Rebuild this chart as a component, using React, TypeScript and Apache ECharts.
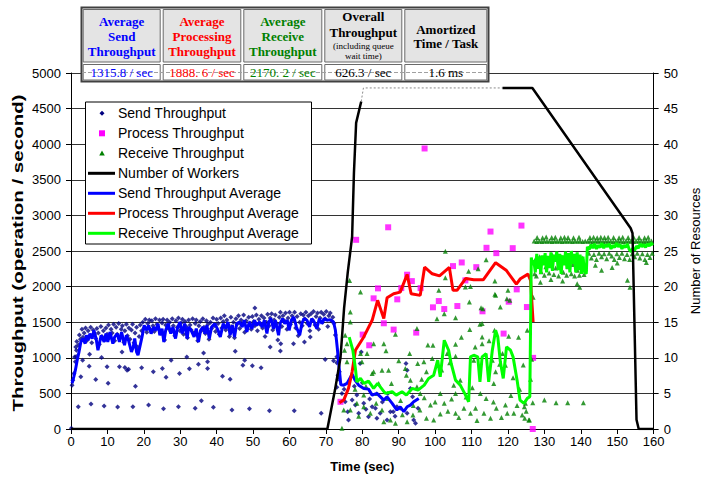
import React, { useEffect, useRef } from "react";
import * as echarts from "echarts";

// ---------------- DATA ----------------
const xTicks = [0, 10, 20, 30, 40, 50, 60, 70, 80, 90, 100, 110, 120, 130, 140, 150, 160];

const sendThroughput: number[][] = [
  [0.1, 10], [0.3, 616], [0.5, 686], [0.8, 780], [1.2, 943], [1.5, 1106], [1.4, 1020], [2.0, 312], [2.7, 733], [3.2, 966],
  [5.0, 882], [5.1, 1050], [5.5, 350], [6.8, 696], [8.4, 1004], [9.1, 322], [9.9, 873], [10.2, 644], [12.8, 308], [13.3, 873],
  [14.0, 1083], [14.8, 864], [15.4, 826], [15.8, 840], [17.0, 312], [17.7, 602], [19.4, 859], [21.3, 336], [22.6, 803], [25.1, 850],
  [25.4, 284], [26.1, 728], [27.5, 966], [29.5, 312], [29.8, 780], [31.8, 1012], [32.5, 845], [34.1, 290], [35.0, 910], [35.8, 396],
  [36.4, 1069], [37.5, 943], [37.5, 850], [39.1, 304], [41.6, 742], [43.7, 700], [44.2, 266], [45.1, 1092], [47.2, 896], [47.7, 966],
  [49.0, 284], [49.8, 887], [50.5, 1699], [52.2, 859], [54.5, 256], [54.7, 1153], [57.5, 1097], [57.6, 1199], [61.1, 1199], [61.3, 256],
  [64.1, 1223], [65.7, 1293], [68.7, 220], [69.8, 975], [72.1, 957], [73.0, 930], [73.3, 756], [73.3, 700], [73.0, 588],
  [1.0, 1010], [1.3, 1150], [1.6, 1230], [2.0, 1180], [2.3, 1320], [2.6, 1260], [3.0, 1400], [3.3, 1290], [3.6, 1350], [4.0, 1420],
  [4.3, 1240], [4.7, 1380], [5.0, 1300], [5.4, 1430], [5.7, 1210], [6.1, 1390], [6.4, 1330], [6.8, 1270], [7.1, 1410], [7.5, 1350],
  [7.8, 1190], [8.2, 1440], [8.5, 1300], [8.9, 1380], [9.2, 1250], [9.6, 1420], [9.9, 1330], [10.3, 1460], [10.6, 1280], [11.0, 1400],
  [11.3, 1350], [11.7, 1470], [12.0, 1240], [12.4, 1430], [12.7, 1330], [13.1, 1480], [13.4, 1290], [13.8, 1400], [14.1, 1450], [14.5, 1220],
  [14.8, 1380], [15.2, 1470], [15.5, 1310], [15.9, 1420], [16.2, 1260], [16.6, 1390], [16.9, 1470], [17.3, 1210], [17.6, 1350], [18.0, 1430],
  [18.3, 1150], [18.7, 1300], [19.0, 1460], [19.4, 1380], [19.7, 1500], [20.1, 1420], [20.4, 1540], [20.8, 1360], [21.1, 1480], [21.5, 1530],
  [21.8, 1400], [22.2, 1520], [22.5, 1450], [22.9, 1370], [23.2, 1550], [23.6, 1470], [23.9, 1420], [24.3, 1530], [24.6, 1350], [25.0, 1490],
  [25.3, 1540], [25.7, 1250], [26.0, 1460], [26.4, 1530], [26.7, 1410], [27.1, 1500], [27.4, 1370], [27.8, 1550], [28.1, 1450], [28.5, 1310],
  [28.8, 1520], [29.2, 1430], [29.5, 1560], [29.9, 1380], [30.2, 1490], [30.6, 1540], [30.9, 1330], [31.3, 1510], [31.6, 1440], [32.0, 1280],
  [32.3, 1530], [32.7, 1460], [33.0, 1390], [33.4, 1550], [33.7, 1350], [34.1, 1480], [34.4, 1530], [34.8, 1240], [35.1, 1450], [35.5, 1510],
  [35.8, 1380], [36.2, 1550], [36.5, 1430], [36.9, 1340], [37.2, 1520], [37.6, 1470], [37.9, 1260], [38.3, 1500], [38.6, 1410], [39.0, 1560],
  [39.3, 1450], [39.7, 1370], [40.0, 1540], [40.4, 1480], [40.7, 1330], [41.1, 1560], [41.4, 1420], [41.8, 1510], [42.1, 1590], [42.5, 1390],
  [42.8, 1530], [43.2, 1460], [43.5, 1300], [43.9, 1570], [44.2, 1440], [44.6, 1500], [44.9, 1280], [45.3, 1550], [45.6, 1470], [46.0, 1590],
  [46.3, 1410], [46.7, 1530], [47.0, 1480], [47.4, 1600], [47.7, 1360], [48.1, 1520], [48.4, 1440], [48.8, 1570], [49.1, 1490], [49.5, 1400],
  [49.8, 1580], [50.2, 1510], [50.5, 1450], [50.9, 1600], [51.2, 1380], [51.6, 1540], [51.9, 1470], [52.3, 1590], [52.6, 1420], [53.0, 1560],
  [53.3, 1300], [53.7, 1500], [54.0, 1610], [54.4, 1450], [54.7, 1560], [55.1, 1620], [55.4, 1390], [55.8, 1530], [56.1, 1600], [56.5, 1480],
  [56.8, 1250], [57.2, 1570], [57.5, 1640], [57.9, 1440], [58.2, 1590], [58.6, 1520], [58.9, 1630], [59.3, 1400], [59.6, 1560], [60.0, 1640],
  [60.3, 1470], [60.7, 1590], [61.0, 1530], [61.4, 1640], [61.7, 1420], [62.1, 1580], [62.4, 1310], [62.8, 1500], [63.1, 1620], [63.5, 1450],
  [63.8, 1600], [64.2, 1550], [64.5, 1640], [64.9, 1480], [65.2, 1590], [65.6, 1380], [65.9, 1620], [66.3, 1530], [66.6, 1650], [67.0, 1460],
  [67.3, 1580], [67.7, 1630], [68.0, 1400], [68.4, 1560], [68.7, 1640], [69.1, 1500], [69.4, 1610], [69.8, 1550], [70.1, 1650], [70.5, 1440],
  [70.8, 1590], [71.2, 1630], [71.5, 1520], [71.9, 1570], [72.2, 1480], [72.6, 1320],
  [73.5, 733], [73.0, 1013], [73.7, 803], [74.4, 500], [75.3, 382], [76.0, 243], [76.2, 126], [77.2, 406], [78.1, 336], [78.5, 476],
  [79.0, 220], [79.7, 1083], [79.4, 920], [80.4, 360], [81.0, 276], [81.7, 172], [82.7, 312], [83.6, 290], [84.0, 150], [84.9, 220],
  [86.8, 126], [87.7, 243], [88.5, 243], [89.5, 312], [90.4, 290], [92.0, 920], [92.3, 826], [93.2, 570], [93.8, 452], [94.1, 126],
  [94.6, 80], [95.3, 290], [92.3, 220], [75.0, 560], [77.8, 600], [80.0, 650], [82.0, 420], [85.5, 380], [87.0, 500], [89.0, 180]
];

const processThroughput: number[][] = [
  [74.0, 382], [78.3, 2657], [80.1, 1326], [81.9, 1176], [83.1, 1835], [84.3, 1975], [85.9, 1485], [87.1, 2833], [88.6, 1396], [89.6, 1821],
  [90.7, 1979], [92.3, 2167], [93.6, 2077], [94.8, 1354], [96.0, 1979], [97.1, 3940], [99.4, 1709], [101.0, 1797], [102.5, 1685], [104.9, 2288],
  [106.1, 1727], [107.3, 2339], [108.3, 2087], [111.3, 2273], [113.0, 1653], [114.1, 2545], [115.2, 2773], [116.8, 2470], [118.8, 1340], [120.2, 1788],
  [121.3, 2540], [122.4, 1961], [123.7, 2857], [125.2, 1713], [126.9, 999], [126.8, 0]
];

const receiveThroughput: number[][] = [
  [74.4, 10], [74.9, 266], [75.1, 1106], [75.3, 1316], [75.8, 1199], [75.8, 943], [76.5, 2087], [76.7, 1643], [76.7, 1503], [76.7, 266],
  [78.5, 360], [79.5, 1923], [79.5, 1060], [79.9, 943], [80.4, 312], [80.4, 476], [81.3, 1060], [82.2, 220], [82.7, 780], [83.1, 1199],
  [83.1, 803], [84.0, 500], [85.4, 826], [85.4, 266], [85.9, 1199], [85.9, 103], [87.2, 826], [87.7, 126], [89.1, 1330], [89.1, 80],
  [91.8, 850], [92.1, 756], [92.3, 103], [93.2, 686], [93.9, 196], [95.0, 1410], [95.0, 592], [95.2, 920], [95.8, 266], [95.9, 500],
  [96.9, 943], [97.6, 803], [97.6, 150], [98.7, 336], [99.2, 990], [99.4, 1176], [99.6, 126], [100.5, 1550], [101.0, 1947], [101.4, 210],
  [101.4, 500], [102.5, 1620], [102.5, 360], [102.8, 2497], [102.8, 2124], [103.3, 1060], [105.1, 616], [105.6, 1564], [105.6, 1190], [105.6, 1022],
  [105.6, 500], [105.6, 220], [106.9, 686], [107.9, 290], [108.3, 1993], [109.2, 2217], [109.4, 1783], [109.5, 1396], [109.7, 2003], [109.7, 220],
  [110.6, 966], [111.1, 290], [111.8, 2250], [112.3, 1471], [112.4, 500], [112.6, 1704], [112.9, 1480], [112.9, 1293], [112.9, 1199], [113.1, 1690],
  [113.4, 220], [114.0, 2376], [115.2, 150], [115.7, 966], [116.1, 640], [116.3, 1386], [116.4, 2077], [116.4, 1891], [116.6, 1877], [116.6, 803],
  [116.8, 290], [117.7, 910], [117.9, 1713], [119.3, 896], [119.3, 336], [119.7, 1830], [119.8, 220], [120.0, 1947], [120.2, 1302], [120.5, 1807],
  [121.6, 220], [123.9, 196], [124.5, 312], [124.8, 360], [125.7, 126], [125.9, 126], [126.2, 700], [126.5, 980], [125.3, 1386], [126.9, 1850],
  [86.5, 1100], [88.0, 640], [90.5, 400], [94.0, 330], [97.0, 440], [100.0, 380], [103.5, 250], [104.5, 420], [106.5, 160], [108.5, 450],
  [110.2, 580], [111.5, 120], [114.0, 430], [116.0, 380], [118.2, 160], [120.8, 470], [122.5, 330], [123.2, 560], [125.0, 250], [78.0, 560],
  [79.0, 180], [81.0, 600], [83.8, 360], [84.5, 640], [87.0, 430], [90.0, 960], [91.0, 200], [93.0, 1060], [96.3, 700], [98.0, 1180],
  [101.8, 830], [104.0, 930], [107.2, 1290], [111.0, 1150], [114.8, 1240], [118.5, 1060], [121.4, 720], [122.9, 1290], [124.2, 900], [124.6, 150],
  [126.8, 368], [130.0, 406], [133.2, 368], [136.4, 368], [140.7, 368],
  [127.2, 2640], [127.9, 2635], [128.6, 2640], [129.3, 2632], [130.0, 2640], [130.7, 2636], [131.4, 2642], [132.1, 2634], [132.8, 2640], [133.5, 2636],
  [134.2, 2642], [134.9, 2632], [135.6, 2640], [136.3, 2636], [137.0, 2640], [137.7, 2634], [138.4, 2642], [139.1, 2636], [139.8, 2640], [140.5, 2632],
  [141.2, 2640], [141.9, 2636], [142.6, 2642], [143.3, 2634], [144.0, 2640], [144.7, 2636], [145.4, 2642], [146.1, 2632], [146.8, 2640], [147.5, 2636],
  [148.2, 2640], [148.9, 2634], [149.6, 2642], [150.3, 2636], [151.0, 2640], [151.7, 2632], [152.4, 2640], [153.1, 2636], [153.8, 2642], [154.5, 2634],
  [155.2, 2640], [155.9, 2636], [156.6, 2642], [157.3, 2632], [158.0, 2640], [158.7, 2636], [159.4, 2640],
  [128.0, 2690], [129.5, 2685], [130.5, 2695], [132.0, 2688], [133.0, 2692], [134.5, 2686], [135.5, 2694], [136.5, 2690], [138.0, 2686], [139.5, 2692],
  [142.5, 2690], [143.5, 2694], [144.5, 2686], [145.5, 2692], [146.5, 2688], [147.5, 2694], [149.0, 2690], [150.5, 2686], [151.5, 2692], [153.0, 2688],
  [154.5, 2694], [156.0, 2690], [157.5, 2686], [158.5, 2692],
  [127.5, 2380], [127.8, 2150], [128.2, 2300], [128.7, 2420], [129.1, 2210], [129.5, 2350], [130.0, 2160], [130.4, 2280], [130.9, 2400], [131.3, 2190],
  [131.7, 2320], [132.2, 2440], [132.6, 2170], [133.1, 2260], [133.5, 2380], [133.9, 2150], [134.3, 2300], [134.8, 2420], [135.2, 2200], [135.7, 2340],
  [136.1, 2160], [136.5, 2280], [137.0, 2410], [137.4, 2180], [137.8, 2310], [138.3, 2150], [138.7, 2370], [139.1, 2230], [139.6, 2160], [140.0, 2290],
  [140.4, 2400], [140.9, 2170], [141.3, 2250], [128.9, 2060], [131.8, 2100], [135.0, 2080], [139.0, 2040], [139.7, 1990], [127.3, 2180],
  [142.2, 2470], [142.9, 2400], [143.6, 2450], [144.3, 2380], [145.0, 2470], [145.7, 2420], [146.4, 2460], [147.1, 2390], [147.8, 2470], [148.5, 2430],
  [149.2, 2380], [149.9, 2460], [150.6, 2410], [151.3, 2470], [152.0, 2390], [152.7, 2450], [153.4, 2380], [154.1, 2460], [154.8, 2420], [155.5, 2470],
  [156.2, 2400], [156.9, 2460], [157.6, 2380], [158.3, 2450], [159.0, 2410], [159.6, 2470], [145.7, 2230], [148.6, 2270], [152.8, 2090], [153.5, 1990],
  [144.0, 2300], [150.0, 2330], [158.0, 2340]
];

const numberOfWorkers: number[][] = [
  [0, 0], [70.4, 0], [72.5, 5.5], [74.0, 10], [75.0, 17], [76.0, 22], [77.2, 27], [77.7, 36], [78.3, 43], [79.7, 46]
];
const numberOfWorkersGap: number[][] = [[79.7, 46], [80.3, 47.9], [118.5, 47.9]];
const numberOfWorkersLate: number[][] = [
  [118.5, 47.9], [126.7, 47.9], [153.7, 28.2], [154.2, 27.5], [155.3, 1.3], [155.9, 0], [160, 0]
];

const sendAverage: number[][] = [
  [0.3, 640], [0.8, 740], [1.2, 826], [1.7, 966], [2.2, 1083], [2.7, 1223], [3.3, 1270], [3.9, 1200], [4.2, 1316], [4.7, 1246],
  [5.2, 1340], [5.8, 1270], [6.3, 1386], [6.9, 1270], [7.4, 1106], [7.9, 1223], [8.3, 1316], [9.1, 1223], [9.6, 1340], [10.1, 1223],
  [10.7, 1363], [11.5, 1200], [12.0, 1293], [12.7, 1340], [13.3, 1223], [13.9, 1363], [14.7, 1176], [15.2, 1316], [15.8, 1246], [16.6, 1083],
  [17.1, 1153], [17.5, 1270], [18.0, 1083], [18.4, 1036], [18.9, 1153], [19.5, 1293], [20.1, 1456], [20.8, 1386], [21.3, 1456], [22.0, 1340],
  [22.7, 1433], [23.3, 1386], [23.9, 1480], [24.4, 1316], [25.0, 1410], [25.5, 1223], [26.0, 1386], [26.7, 1480], [27.4, 1340], [28.0, 1433],
  [28.7, 1270], [29.2, 1410], [29.9, 1503], [30.5, 1340], [31.2, 1480], [31.9, 1270], [32.3, 1433], [33.0, 1386], [33.8, 1293], [34.4, 1410],
  [35.0, 1223], [35.6, 1386], [36.2, 1433], [36.8, 1340], [37.3, 1456], [38.0, 1270], [38.6, 1433], [39.5, 1480], [40.4, 1386], [41.0, 1293],
  [41.8, 1480], [42.5, 1410], [43.1, 1503], [43.7, 1316], [44.3, 1456], [44.9, 1293], [45.5, 1480], [46.3, 1503], [47.0, 1433], [47.6, 1527],
  [48.3, 1363], [49.0, 1503], [49.7, 1410], [50.4, 1527], [51.0, 1456], [51.8, 1503], [52.5, 1433], [53.1, 1527], [53.8, 1340], [54.3, 1503],
  [54.9, 1550], [55.6, 1410], [56.1, 1527], [57.0, 1316], [57.4, 1480], [58.1, 1550], [58.7, 1480], [59.4, 1527], [59.9, 1386], [60.5, 1527],
  [61.2, 1573], [61.9, 1433], [62.8, 1316], [63.4, 1480], [64.0, 1550], [64.8, 1527], [65.5, 1433], [66.1, 1550], [66.8, 1503], [67.5, 1410],
  [68.2, 1550], [68.9, 1480], [69.5, 1550], [70.3, 1527], [71.2, 1536], [72.1, 1503], [72.6, 1390], [73.1, 1150], [73.6, 880], [74.1, 620],
  [74.9, 616], [75.8, 640], [77.2, 770], [78.0, 686], [79.0, 616], [80.4, 570], [81.7, 560], [82.7, 476], [84.0, 500], [85.9, 406],
  [86.8, 452], [88.2, 360], [89.5, 266], [90.4, 312], [91.4, 243], [92.3, 312], [93.2, 336], [94.1, 382], [95.5, 430]
];

const processAverage: number[][] = [
  [73.7, 368], [74.9, 406], [76.2, 570], [77.2, 803], [78.1, 1106], [80.4, 1293], [82.7, 1527], [84.2, 1807], [85.9, 1550], [86.8, 1844],
  [88.6, 1900], [90.4, 1923], [92.3, 2171], [93.4, 1900], [95.9, 1877], [97.1, 2273], [99.2, 2180], [101.2, 2150], [103.9, 2270], [104.9, 1947],
  [106.0, 1947], [108.4, 2115], [110.6, 2097], [113.2, 2095], [116.6, 2336], [119.5, 2230], [122.3, 2035], [123.4, 2110], [125.5, 2175], [126.2, 2087],
  [126.9, 1503]
];

const receiveAverage: number[][] = [
  [76.4, 1290], [77.4, 1106], [78.1, 850], [78.5, 663], [79.5, 710], [80.4, 640], [81.7, 672], [83.1, 570], [84.2, 640], [86.3, 500],
  [88.2, 523], [89.3, 476], [90.9, 523], [92.1, 476], [93.7, 570], [95.3, 546], [97.0, 616], [98.2, 710], [99.6, 756], [100.7, 966],
  [101.4, 733], [102.5, 1246], [103.7, 1106], [104.4, 920], [105.6, 686], [106.9, 616], [108.1, 500], [109.2, 382], [109.7, 1013], [110.6, 1036],
  [111.7, 1013], [112.3, 663], [112.9, 1013], [114.0, 1059], [114.7, 663], [115.7, 1106], [116.6, 1386], [117.2, 1293], [117.9, 943], [118.7, 710],
  [119.6, 1153], [120.7, 1106], [121.4, 1013], [122.5, 686], [123.3, 406], [124.4, 360], [125.3, 430], [126.0, 452], [126.4, 2410], [126.8, 2300],
  [127.1, 2370], [127.5, 2200], [127.9, 2460], [128.3, 2250], [128.6, 2420], [129.0, 2180], [129.4, 2440], [129.8, 2300], [130.2, 2470], [130.6, 2200],
  [131.0, 2430], [131.4, 2260], [131.8, 2480], [132.2, 2220], [132.6, 2450], [133.0, 2350], [133.4, 2490], [133.8, 2230], [134.2, 2460], [134.6, 2180],
  [135.0, 2440], [135.4, 2300], [135.8, 2490], [136.2, 2250], [136.6, 2470], [137.0, 2200], [137.4, 2500], [137.8, 2320], [138.2, 2460], [138.6, 2200],
  [139.0, 2480], [139.4, 2230], [139.8, 2450], [140.2, 2180], [140.6, 2420], [141.0, 2210], [141.5, 2180], [141.8, 2560], [142.3, 2520], [142.8, 2590],
  [143.3, 2540], [143.8, 2600], [144.3, 2530], [144.8, 2580], [145.3, 2550], [145.8, 2610], [146.3, 2540], [146.8, 2590], [147.3, 2560], [147.8, 2600],
  [148.3, 2530], [148.8, 2580], [149.3, 2550], [149.8, 2610], [150.3, 2560], [150.8, 2590], [151.3, 2530], [151.8, 2580], [152.3, 2550], [152.8, 2600],
  [153.3, 2520], [153.8, 2490], [154.3, 2540], [154.8, 2510], [155.3, 2570], [155.8, 2540], [156.3, 2600], [156.8, 2560], [157.3, 2590], [157.8, 2550],
  [158.3, 2600], [158.8, 2570], [159.3, 2610], [159.8, 2580]
];

const legendNames = [
  "Send Throughput", "Process Throughput", "Receive Throughput", "Number of Workers",
  "Send Throughput Average", "Process Throughput Average", "Receive Throughput Average"
];
const seriesColors = ["#000080", "#FF00FF", "#008000", "#000000", "#0000FF", "#FF0000", "#00FF00"];

const tableHeaders: string[][] = [
  ["Average", "Send", "Throughput"],
  ["Average", "Processing", "Throughput"],
  ["Average", "Receive", "Throughput"],
  ["Overall", "Throughput", "(including queue", "wait time)"],
  ["Amortized", "Time / Task"]
];
const tableValues = ["1315.8 / sec", "1888. 6 / sec", "2170. 2 / sec", "626.3 / sec", "1.6 ms"];
const tableColors = ["#0000FF", "#FF0000", "#008000", "#000000", "#000000"];

const leftAxisTitle = "Throughput (operation / second)";

// ---------------- STYLE ----------------
const SANS = "'Liberation Sans', Arial, sans-serif";
const SERIF = "'Liberation Serif', 'Times New Roman', serif";

function buildGraphic() {
  const g: any[] = [];
  const colX = [81.7, 161.7, 242.3, 323.3, 403.3, 488.3];
  g.push({ type: "rect", z: 100, silent: true, shape: { x: 81.5, y: 7.5, width: 407, height: 74 }, style: { fill: "#ffffff", stroke: "#404040", lineWidth: 2 } });
  for (let i = 0; i < 5; i++) {
    const x0 = colX[i] + 1.5;
    const w = colX[i + 1] - colX[i] - 3;
    g.push({ type: "rect", z: 100, silent: true, shape: { x: x0, y: 9.5, width: w, height: 52.5 }, style: { fill: "#e4e4e4", stroke: "#6a6a6a", lineWidth: 1 } });
    g.push({ type: "rect", z: 100, silent: true, shape: { x: x0, y: 64.5, width: w, height: 15.5 }, style: { fill: "#ffffff", stroke: "#6a6a6a", lineWidth: 1 } });
  }
  g.push({ type: "line", z: 101, silent: true, shape: { x1: 82, y1: 72.5, x2: 488, y2: 72.5 }, style: { stroke: "#a0a0a0", lineWidth: 1, lineDash: [4, 2] } });
  const lineYs: number[][] = [
    [21.7, 36.7, 51.7], [21.7, 36.7, 51.7], [21.7, 36.7, 51.7], [16.7, 32.2, 46, 56], [29, 43.5]
  ];
  for (let i = 0; i < 5; i++) {
    const cx = (colX[i] + colX[i + 1]) / 2;
    tableHeaders[i].forEach((t, j) => {
      const small = i === 3 && j >= 2;
      g.push({
        type: "text", z: 102, silent: true, x: cx, y: lineYs[i][j],
        style: { text: t, fill: tableColors[i], fontFamily: SERIF, fontSize: small ? 9 : 13, fontWeight: small ? "normal" : "bold", align: "center", verticalAlign: "middle" }
      });
    });
    g.push({
      type: "text", z: 102, silent: true, x: cx, y: 72.7,
      style: { text: tableValues[i], fill: tableColors[i], fontFamily: SERIF, fontSize: 13, align: "center", verticalAlign: "middle" }
    });
  }
  // legend
  g.push({ type: "rect", z: 100, silent: true, shape: { x: 85.5, y: 102, width: 226, height: 142 }, style: { fill: "#ffffff", stroke: "#000000", lineWidth: 1 } });
  legendNames.forEach((name, i) => {
    const y = 113.3 + 20 * i;
    const c = seriesColors[i];
    if (i === 0) {
      g.push({ type: "polygon", z: 101, silent: true, shape: { points: [[102, y - 2.5], [104.5, y], [102, y + 2.5], [99.5, y]] }, style: { fill: c } });
    } else if (i === 1) {
      g.push({ type: "rect", z: 101, silent: true, shape: { x: 99, y: y - 3, width: 6, height: 6 }, style: { fill: c } });
    } else if (i === 2) {
      g.push({ type: "polygon", z: 101, silent: true, shape: { points: [[102, y - 2.8], [104.8, y + 2.2], [99.2, y + 2.2]] }, style: { fill: c } });
    } else {
      g.push({ type: "line", z: 101, silent: true, shape: { x1: 88, y1: y, x2: 115, y2: y }, style: { stroke: c, lineWidth: 3 } });
    }
    g.push({ type: "text", z: 101, silent: true, x: 118, y: y, style: { text: name, fill: "#000", fontFamily: SANS, fontSize: 14, align: "left", verticalAlign: "middle" } });
  });
  // left axis title (stretched along its length, as in the reference)
  g.push({
    type: "text", z: 50, silent: true, x: 18, y: 253, rotation: Math.PI / 2, scaleX: 1.37, scaleY: 1,
    style: { text: leftAxisTitle, fill: "#000", fontFamily: SANS, fontSize: 15, fontWeight: "bold", align: "center", verticalAlign: "middle" }
  });
  return g;
}

export default function App() {
  const ref = useRef<HTMLDivElement>(null);
  useEffect(() => {
    if (!ref.current) return;
    const chart = echarts.init(ref.current, null, { renderer: "svg" });
    const axisLabel = { color: "#000", fontFamily: SANS, fontSize: 13 };
    const option: any = {
      animation: false,
      backgroundColor: "#ffffff",
      grid: { left: 71, right: 56, top: 73, bottom: 50, containLabel: false },
      xAxis: {
        type: "value", min: 0, max: 160, interval: 10,
        name: "Time (sec)", nameLocation: "middle", nameGap: 31,
        nameTextStyle: { color: "#000", fontFamily: SANS, fontSize: 13, fontWeight: "bold" },
        axisLine: { show: true, lineStyle: { color: "#000", width: 1 } },
        axisTick: { show: true, length: 5, lineStyle: { color: "#000" } },
        axisLabel: { ...axisLabel, margin: 6, formatter: (v: number) => (xTicks.includes(v) ? String(v) : "") },
        splitLine: { show: false }
      },
      yAxis: [
        {
          type: "value", min: 0, max: 5000, interval: 500, position: "left",
          axisLine: { show: true, lineStyle: { color: "#000", width: 1 } },
          axisTick: { show: true, length: 5, lineStyle: { color: "#000" } },
          axisLabel: { ...axisLabel, margin: 10, formatter: (v: number) => String(v) },
          splitLine: { show: true, lineStyle: { color: "#333", width: 1 } }
        },
        {
          type: "value", min: 0, max: 50, interval: 5, position: "right",
          name: "Number of Resources", nameLocation: "middle", nameGap: 32,
          nameTextStyle: { color: "#000", fontFamily: SANS, fontSize: 13 },
          axisLine: { show: true, lineStyle: { color: "#000", width: 1 } },
          axisTick: { show: true, length: 5, lineStyle: { color: "#000" } },
          axisLabel: { ...axisLabel, margin: 10, formatter: (v: number) => String(v) },
          splitLine: { show: false }
        }
      ],
      graphic: buildGraphic(),
      series: [
        { name: legendNames[0], type: "scatter", data: sendThroughput, symbol: "diamond", symbolSize: 5, itemStyle: { color: seriesColors[0] } },
        { name: legendNames[1], type: "scatter", data: processThroughput, symbol: "rect", symbolSize: 6, itemStyle: { color: seriesColors[1] } },
        { name: legendNames[2], type: "scatter", data: receiveThroughput, symbol: "triangle", symbolSize: 5, itemStyle: { color: seriesColors[2] } },
        { name: legendNames[4], type: "line", data: sendAverage, symbol: "none", lineStyle: { color: seriesColors[4], width: 3 } },
        { name: legendNames[5], type: "line", data: processAverage, symbol: "none", lineStyle: { color: seriesColors[5], width: 3 } },
        { name: legendNames[6], type: "line", data: receiveAverage, symbol: "none", lineStyle: { color: seriesColors[6], width: 3 } },
        { name: legendNames[3], type: "line", yAxisIndex: 1, data: numberOfWorkers, symbol: "none", lineStyle: { color: "#000", width: 2.5 } },
        { name: "Number of Workers (gap)", type: "line", yAxisIndex: 1, data: numberOfWorkersGap, symbol: "none", lineStyle: { color: "#8a8a8a", width: 1, type: [2, 2] } },
        { name: "Number of Workers (late)", type: "line", yAxisIndex: 1, data: numberOfWorkersLate, symbol: "none", lineStyle: { color: "#000", width: 2.5 } }
      ]
    };
    chart.setOption(option);
    return () => chart.dispose();
  }, []);
  return <div ref={ref} style={{ position: "fixed", left: 0, top: 0, width: 710, height: 479, background: "#fff" }} />;
}
